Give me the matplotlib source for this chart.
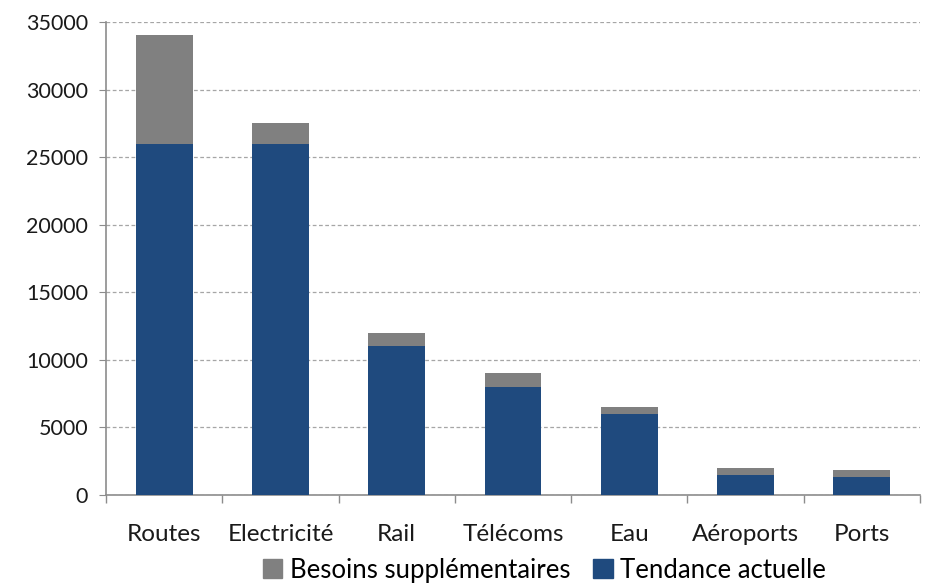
import matplotlib
import matplotlib.pyplot as plt
import numpy as np
from matplotlib.patches import Patch

matplotlib.use("Agg")

categories = ["Routes", "Electricité", "Rail", "Télécoms", "Eau", "Aéroports", "Ports"]
tendance = [26000, 26000, 11000, 8000, 6000, 1500, 1350]
besoins = [8000, 1500, 1000, 1000, 500, 500, 500]

blue = "#1f4a7e"
grey = "#808080"
axis_col = "#8c8c8c"

plt.rcParams["font.family"] = ["Lato", "DejaVu Sans"]

fig = plt.figure(figsize=(9.26, 5.86), dpi=100)
ax = fig.add_axes([0.1145, 0.1553, 0.879, 0.8072])

x = np.arange(len(categories))
ax.bar(x, tendance, width=0.49, color=blue, zorder=3)
ax.bar(x, besoins, width=0.49, bottom=tendance, color=grey, zorder=3)

ax.set_xlim(-0.5, len(categories) - 0.5)
ax.set_ylim(0, 35000)
ax.set_yticks(np.arange(0, 35001, 5000))
ax.yaxis.grid(True, linestyle=(0, (3, 2)), color="#a6a6a6", linewidth=0.9, zorder=0)

# category labels at the centres, tick marks between categories
ax.set_xticks(x)
ax.set_xticklabels(categories)
ax.set_xticks(np.arange(-0.5, len(categories)), minor=True)
ax.tick_params(axis="x", which="major", length=0, pad=21, labelsize=17.5, colors="#1a1a1a")
ax.tick_params(axis="x", which="minor", length=6, color=axis_col, width=1)
ax.tick_params(axis="y", length=5, color=axis_col, labelsize=15.5, colors="#1a1a1a", pad=8)

for side in ["top", "right"]:
    ax.spines[side].set_visible(False)
for side in ["left", "bottom"]:
    ax.spines[side].set_color(axis_col)
    ax.spines[side].set_linewidth(1.2)

handles = [Patch(color=grey), Patch(color=blue)]
fig.legend(handles, ["Besoins supplémentaires", "Tendance actuelle"],
           loc="center", bbox_to_anchor=(0.588, 0.027), ncol=2, frameon=False,
           fontsize=18.5, handlelength=0.75, handleheight=0.75, handletextpad=0.3,
           columnspacing=0.9, borderaxespad=0)

fig.savefig("out.png", dpi=100)
